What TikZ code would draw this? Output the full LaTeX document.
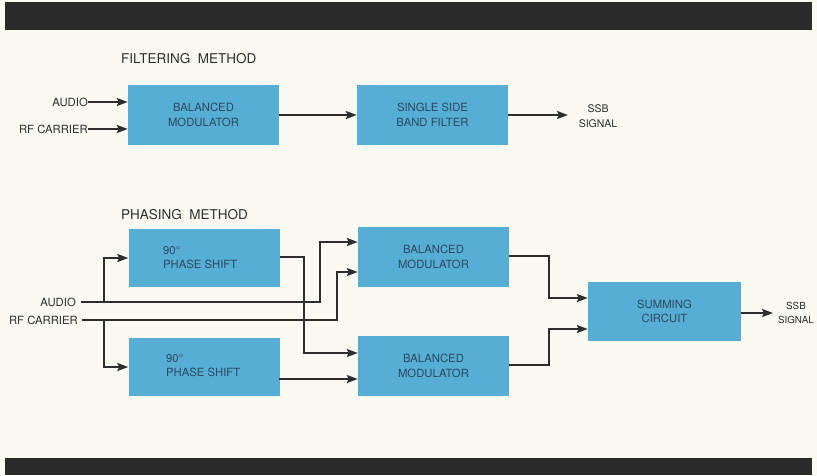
\documentclass[tikz,border=0pt]{standalone}
\usepackage{fontspec}
\setmainfont{TeX Gyre Heros}
\usetikzlibrary{arrows.meta,calc}
\definecolor{bg}{RGB}{250,250,243}
\definecolor{bar}{RGB}{42,42,42}
\definecolor{boxfill}{RGB}{86,174,212}
\definecolor{boxtext}{RGB}{44,72,96}
\definecolor{ink}{RGB}{45,45,45}
\tikzset{
  blk/.style={fill=boxfill, draw=none, minimum width=151pt, minimum height=60pt, inner sep=0pt,
    text=boxtext, align=center, font=\fontsize{11.3}{14.5}\selectfont},
  lbl/.style={text=ink, font=\fontsize{11.3}{14.5}\selectfont, inner sep=0pt},
  ttl/.style={text=ink, font=\fontsize{13.5}{16}\selectfont, inner sep=0pt, anchor=west},
  wire/.style={draw=ink, line width=2pt},
  arr/.style={wire, -{Stealth[length=11pt,width=8pt,inset=2pt]}},
}
\begin{document}
\begin{tikzpicture}[x=1pt,y=-1pt]
\useasboundingbox (0,0) rectangle (817,475);
\fill[bg] (0,0) rectangle (817,475);
\fill[bar] (5,2) rectangle (812,30);
\fill[bar] (5,458) rectangle (812,475);

% Filtering method
\node[ttl] (t1) at (121,59) {FILTERING\ \ METHOD};
\node[blk] (bm0) at (203.5,115) {BALANCED\\MODULATOR};
\node[blk] (ssbf) at (432.5,115) {SINGLE SIDE\\BAND FILTER};
\node[lbl, anchor=east] (au0) at (88,102) {AUDIO};
\node[lbl, anchor=east] (rf0) at (88,129) {RF CARRIER};
\draw[arr] (au0.east) -- (bm0.west |- au0.east);
\draw[arr] (rf0.east) -- (bm0.west |- rf0.east);
\draw[arr] (bm0.east) -- (ssbf.west);
\coordinate (o1) at (568,115);
\draw[arr] (ssbf.east) -- (o1);
\node[lbl, align=center, font=\fontsize{10.5}{14.5}\selectfont] (ssb1) at (598,116) {SSB\\SIGNAL};

% Phasing method
\node[ttl] (t2) at (121,215) {PHASING\ \ METHOD};
\node[blk, minimum height=58pt] (ps1) at (204,258) {};
\node[lbl, text=boxtext, anchor=north west, align=left] at (163,246) {90°\\PHASE SHIFT};
\node[blk, minimum height=58pt] (ps2) at (204,367) {};
\node[lbl, text=boxtext, anchor=north west, align=left] at (166,354) {90°\\PHASE SHIFT};
\node[blk] (bm1) at (433.5,257) {BALANCED\\MODULATOR};
\node[blk] (bm2) at (433.5,366) {BALANCED\\MODULATOR};
\node[blk, minimum width=153pt, minimum height=59pt] (sc) at (664.5,311.5) {SUMMING\\CIRCUIT};

\node[lbl, anchor=east] (au) at (76,302) {AUDIO};
\node[lbl, anchor=east] (rf) at (78,320) {RF CARRIER};

\coordinate (aus) at (81,302);
\coordinate (rfs) at (82,320);
\coordinate (ab) at (104,302);
\coordinate (rb) at (104,320);
\coordinate (a1) at (320,302);
\coordinate (a2) at (320,242);
\coordinate (r1) at (337,320);
\coordinate (r2) at (337,272);
\coordinate (p1) at (304,257);
\coordinate (p2) at (304,353);
\coordinate (p3) at (279,379);
\coordinate (m1) at (549,256);
\coordinate (m2) at (549,298);
\coordinate (n1) at (549,365);
\coordinate (n2) at (549,329);
\coordinate (o2) at (773,313);

\draw[arr] (aus) -- (a1) -- (a2) -- (bm1.west |- a2);
\draw[arr] (rfs) -- (r1) -- (r2) -- (bm1.west |- r2);
\draw[arr] (ab) |- (ps1.west);
\draw[arr] (rb) |- (ps2.west);
\draw[arr] (ps1.east |- p1) -- (p1) -- (p2) -- (bm2.west |- p2);
\draw[arr] (p3) -- (bm2.west |- p3);
\draw[arr] (bm1.east |- m1) -- (m1) -- (m2) -- (sc.west |- m2);
\draw[arr] (bm2.east |- n1) -- (n1) -- (n2) -- (sc.west |- n2);
\draw[arr] (sc.east |- o2) -- (o2);
\node[lbl, align=center, font=\fontsize{9.8}{14.5}\selectfont] (ssb2) at (796,313) {SSB\\SIGNAL};
\end{tikzpicture}
\end{document}
